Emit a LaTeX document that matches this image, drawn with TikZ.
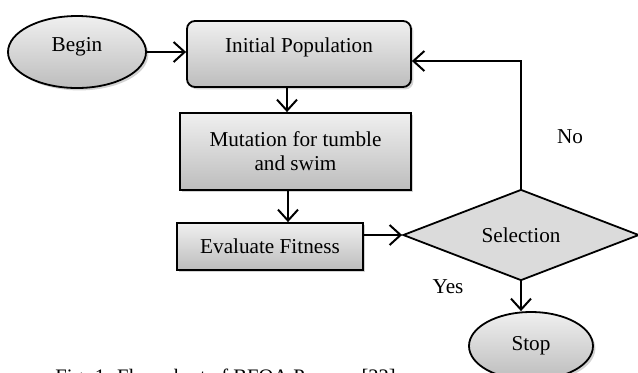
\documentclass[tikz,border=0pt]{standalone}
\usepackage{fontspec}
\setmainfont{Liberation Serif}
\usetikzlibrary{shapes.geometric,arrows.meta,shadows}
\tikzset{
  boxfill/.style={draw=black, line width=0.9pt, top color=white!94!black, bottom color=white!74!black,
    drop shadow={opacity=0.35, shadow xshift=1.2pt, shadow yshift=-1.2pt}},
  procbox/.style={boxfill, rectangle, inner sep=0pt, align=center},
  termnode/.style={boxfill, ellipse, inner sep=0pt},
  decnode/.style={diamond, draw=black, line width=0.9pt, fill=white!86!black, inner sep=0pt, shape aspect=2.6},
  arr/.style={line width=1pt, -{Straight Barb[length=5.5pt,width=10pt,line width=1pt]}},
  lbl/.style={inner sep=0pt},
  every node/.style={font=\fontsize{10.6}{12}\selectfont}
}
\begin{document}
\begin{tikzpicture}[x=0.5pt,y=-0.5pt]
\clip (0,0) rectangle (638,372);
% nodes
\node[termnode, minimum width=69pt, minimum height=36pt, text depth=7.5pt] (begin) at (77,52) {Begin};
\node[procbox, rounded corners=4pt, minimum width=112pt, minimum height=33pt, text depth=8.5pt] (init) at (299,54) {Initial Population};
\node[procbox, minimum width=115.5pt, minimum height=38.5pt] (mut) at (295.5,151.5) {Mutation for tumble\\and swim};
\node[procbox, minimum width=93pt, minimum height=23.5pt] (eval) at (270,246.5) {Evaluate Fitness};
\node[decnode, minimum width=118pt, minimum height=45.5pt] (sel) at (521,235) {Selection};
\node[termnode, minimum width=62pt, minimum height=34pt] (stop) at (531,346) {Stop};
\node[lbl] (no) at (570,137) {No};
\node[lbl] (yes) at (448,287) {Yes};
\node[lbl, anchor=base west, font=\fontsize{10.3}{12}\selectfont] (cap) at (55,383) {Fig. 1. Flow chart of BFOA Process [22]};
% helper coordinates
\coordinate (xa) at (287,0);
\coordinate (xb) at (288,0);
\coordinate (ly) at (0,61);
% connectors
\draw[arr] (begin.east) -- (init.west |- begin.east);
\draw[arr] (init.south -| xa) -- (mut.north -| xa);
\draw[arr] (mut.south -| xb) -- (eval.north -| xb);
\draw[arr] (eval.east |- sel.west) -- (sel.west);
\draw[arr] (sel.north) |- (init.east |- ly);
\draw[arr] (sel.south) -- (sel.south |- stop.north);
\end{tikzpicture}
\end{document}
